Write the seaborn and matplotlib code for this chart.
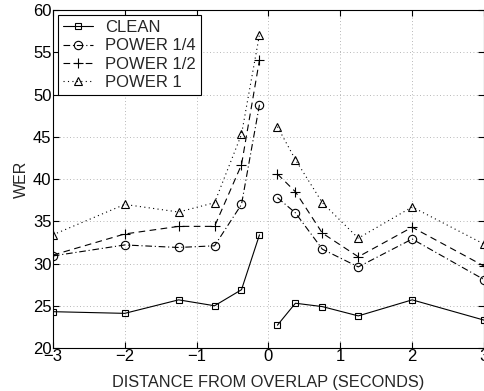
import numpy as np
import pandas as pd
import matplotlib
matplotlib.use("Agg")
import matplotlib.pyplot as plt
import seaborn as sns

x_left = [-3, -2, -1.25, -0.75, -0.375, -0.125]
x_right = [0.125, 0.375, 0.75, 1.25, 2, 3]

clean_l = [24.3, 24.1, 25.7, 25.0, 26.9, 33.4]
clean_r = [22.7, 25.3, 24.9, 23.8, 25.7, 23.3]
p14_l = [30.9, 32.2, 31.9, 32.1, 37.0, 48.8]
p14_r = [37.8, 36.0, 31.7, 29.6, 32.9, 28.1]
p12_l = [31.0, 33.5, 34.4, 34.4, 41.7, 54.1]
p12_r = [40.6, 38.5, 33.6, 30.8, 34.3, 29.7]
p1_l = [33.4, 37.0, 36.1, 37.2, 45.3, 57.1]
p1_r = [46.2, 42.3, 37.2, 33.0, 36.7, 32.3]

series = ["CLEAN", "POWER 1/4", "POWER 1/2", "POWER 1"]
values = {
    "CLEAN": (clean_l, clean_r),
    "POWER 1/4": (p14_l, p14_r),
    "POWER 1/2": (p12_l, p12_r),
    "POWER 1": (p1_l, p1_r),
}
styles = {
    "CLEAN": dict(linestyle="-", marker="s", ms=5.0),
    "POWER 1/4": dict(linestyle=(0, (6, 2.5, 1, 2.5)), marker="o", ms=6.0),
    "POWER 1/2": dict(linestyle=(0, (6, 4)), marker="+", ms=7.0),
    "POWER 1": dict(linestyle=(0, (1, 3)), marker="^", ms=6.0),
}

rows = []
for s in series:
    l, r = values[s]
    for xv, yv in zip(x_left, l):
        rows.append((s, "L", xv, yv))
    for xv, yv in zip(x_right, r):
        rows.append((s, "R", xv, yv))
df = pd.DataFrame(rows, columns=["series", "seg", "x", "y"])

sns.set_theme(style="white")
plt.rcParams["font.family"] = ["Liberation Sans", "DejaVu Sans"]

fig = plt.figure(figsize=(4.85, 3.91), dpi=100)
ax = fig.add_axes([0.109, 0.110, 0.889, 0.864])

handles = []
for s in series:
    st = styles[s]
    sub = df[df["series"] == s]
    n_before = len(ax.lines)
    sns.lineplot(data=sub, x="x", y="y", units="seg", estimator=None,
                 ax=ax, color="black", linewidth=0.8, legend=False,
                 marker=st["marker"], markersize=st["ms"],
                 markerfacecolor="none", markeredgecolor="black",
                 markeredgewidth=0.8, sort=False)
    for ln in ax.lines[n_before:]:
        ln.set_linestyle(st["linestyle"])
    handles.append(ax.lines[n_before])

ax.set_xlim(-3, 3)
ax.set_ylim(20, 60)
ax.set_xticks([-3, -2, -1, 0, 1, 2, 3])
ax.set_yticks([20, 25, 30, 35, 40, 45, 50, 55, 60])
ax.set_xticklabels(["\u22123", "\u22122", "\u22121", "0", "1", "2", "3"])
ax.grid(True, linestyle=(0, (1, 3)), color="#a0a0a0", linewidth=0.6)
ax.tick_params(direction="in", length=4, width=0.8, labelsize=12,
               top=True, right=True, bottom=True, left=True, colors="black",
               pad=1)
for sp in ax.spines.values():
    sp.set_color("black")
    sp.set_linewidth(0.8)
ax.set_xlabel("DISTANCE FROM OVERLAP (SECONDS)", fontsize=11.8, labelpad=8)
ax.set_ylabel("WER", fontsize=11.5, labelpad=3)

leg = ax.legend(handles, series, loc="upper left", fontsize=12,
                frameon=True, fancybox=False, framealpha=1,
                edgecolor="black", handlelength=1.8, borderpad=0.3,
                labelspacing=0.2, handletextpad=0.75,
                borderaxespad=0.3)
leg.get_frame().set_linewidth(0.8)

fig.savefig("out.png", dpi=100)
